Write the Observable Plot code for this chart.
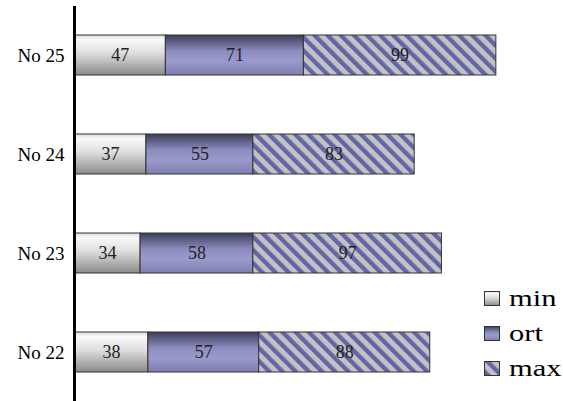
<!DOCTYPE html>
<html>
<head>
<meta charset="utf-8">
<script src="https://cdn.jsdelivr.net/npm/d3@7"></script>
<script src="https://cdn.jsdelivr.net/npm/@observablehq/plot@0.6"></script>
<style>
  html, body { margin: 0; padding: 0; background: #fff; }
  #wrap { position: relative; width: 563px; height: 401px; font-family: "Liberation Serif", "Times New Roman", Times, "DejaVu Serif", serif; }
  #wrap svg text { font-family: "Liberation Serif", "Times New Roman", Times, "DejaVu Serif", serif; }
  #legend { position: absolute; left: 484px; top: 281px; font-size: 24px; color: #000; }
  #legend .row { display: flex; align-items: center; height: 35px; }
  #legend svg { margin-right: 9px; }
  #legend span { display: inline-block; transform: scaleX(1.27); transform-origin: left center; }
</style>
</head>
<body>
<svg width="0" height="0" style="position:absolute">
  <defs>
    <linearGradient id="gMin" x1="0" y1="0" x2="0" y2="1">
      <stop offset="0" stop-color="#dcdcdc"/>
      <stop offset="0.12" stop-color="#fafafa"/>
      <stop offset="0.45" stop-color="#dedede"/>
      <stop offset="1" stop-color="#8a8a8a"/>
    </linearGradient>
    <linearGradient id="gOrt" x1="0" y1="0" x2="0" y2="1">
      <stop offset="0" stop-color="#3c3c58"/>
      <stop offset="0.4" stop-color="#8c8cc0"/>
      <stop offset="0.65" stop-color="#9a9acc"/>
      <stop offset="1" stop-color="#7e7eb0"/>
    </linearGradient>
    <pattern id="gMax" patternUnits="userSpaceOnUse" width="9.3" height="9.3" patternTransform="rotate(-45)">
      <rect width="9.3" height="9.3" fill="#c2c2c2"/>
      <rect x="0" width="4.3" height="9.3" fill="#6464a8"/>
    </pattern>
  </defs>
</svg>
<div id="wrap"></div>
<script>
const categories = ["No 25", "No 24", "No 23", "No 22"];
const series = ["min", "ort", "max"];
const minValues = [47, 37, 34, 38];
const ortValues = [71, 55, 58, 57];
const maxValues = [99, 83, 97, 88];
const fills = ["url(#gMin)", "url(#gOrt)", "url(#gMax)"];

const valuesBySeries = [minValues, ortValues, maxValues];
const data = [];
categories.forEach((c, i) => {
  series.forEach((s, j) => data.push({cat: c, series: s, value: valuesBySeries[j][i]}));
});

const serif = "'Liberation Serif', 'Times New Roman', Times, 'DejaVu Serif', serif";
const chart = Plot.plot({
  width: 563,
  height: 401,
  marginLeft: 74,
  marginRight: 3,
  marginTop: 6,
  marginBottom: 0,
  style: {fontFamily: serif, fontSize: "17px", background: "#fff", color: "#000"},
  x: {domain: [0, 250], axis: null},
  y: {domain: categories, paddingInner: 0.6, paddingOuter: 0.29, align: 0.5, label: null},
  color: {domain: series, range: fills},
  marks: [
    Plot.axisY({tickSize: 0, tickPadding: 10, fontSize: 19, label: null}),
    Plot.barX(data, Plot.stackX({y: "cat", x: "value", fill: "series", stroke: "#333", strokeWidth: 1})),
    Plot.text(data, Plot.stackX({y: "cat", x: "value", text: "value", fill: "#222", fontSize: 18})),
    Plot.ruleX([0], {stroke: "#000", strokeWidth: 3})
  ]
});
document.getElementById("wrap").appendChild(chart);

const legend = document.createElement("div");
legend.id = "legend";
series.forEach((s, j) => {
  const row = document.createElement("div");
  row.className = "row";
  row.innerHTML = `<svg width="16" height="15"><rect x="0.5" y="0.5" width="15" height="14" fill="${fills[j]}" stroke="#333"/></svg><span>${s}</span>`;
  legend.appendChild(row);
});
document.getElementById("wrap").appendChild(legend);
</script>
</body>
</html>
